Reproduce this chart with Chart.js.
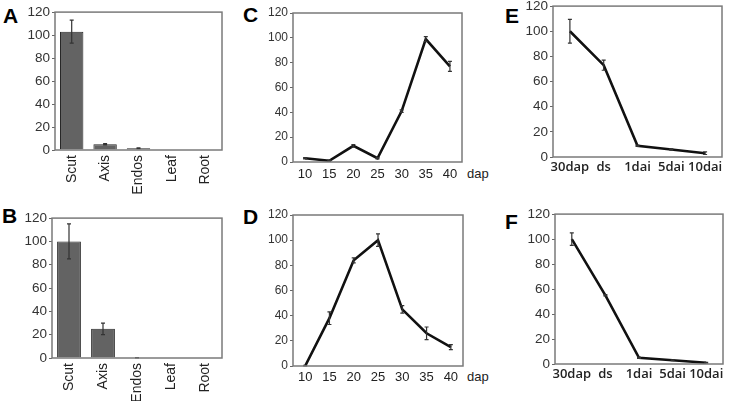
<!DOCTYPE html>
<html>
<head>
<meta charset="utf-8">
<script src="https://cdn.jsdelivr.net/npm/chart.js@4.4.0/dist/chart.umd.min.js"></script>
<style>
    body { margin: 0; background: #fff; }
    #page { position: relative; width: 740px; height: 401px; overflow: hidden; background: #fff; }
    .panel { position: absolute; }
    .letter { position: absolute; font: bold 21px "Liberation Sans", Arial, sans-serif; line-height: 21px; color: #000; }
    .unit { position: absolute; font: 13px "Liberation Sans", Arial, sans-serif; color: #222; }
</style>
</head>
<body>
<div id="page">
    <div class="letter" style="left:3px;top:5px">A</div>
    <div class="letter" style="left:2px;top:205px">B</div>
    <div class="letter" style="left:243px;top:4px">C</div>
    <div class="letter" style="left:243px;top:206px">D</div>
    <div class="letter" style="left:505px;top:5px">E</div>
    <div class="letter" style="left:505px;top:211px">F</div>
    <div class="unit" style="left:467px;top:166px">dap</div>
    <div class="unit" style="left:467px;top:369px">dap</div>
</div>
<script>
const tissue_labels = ['Scut', 'Axis', 'Endos', 'Leaf', 'Root'];
const dap_labels = ['10', '15', '20', '25', '30', '35', '40'];
const stage_labels = ['30dap', 'ds', '1dai', '5dai', '10dai'];

const a_values = [103, 5, 1.5, 0, 0];
const a_errors = [10, 0.6, 0.3, 0, 0];
const b_values = [100, 25, 0, 0, 0];
const b_errors = [15, 5, 0.3, 0, 0];
const c_values = [3, 1, 13, 3, 41, 99, 77];
const c_errors = [0.5, 0.5, 1, 0.5, 1, 2, 4];
const d_values = [0, 38, 84, 100, 45, 26, 15];
const d_errors = [0.5, 5, 2, 5, 3, 5, 2];
const e_values = [100, 73, 9, 6, 3];
const e_errors = [9.5, 4, 0.5, 0.5, 1];
const f_values = [100, 55, 5, 3, 1];
const f_errors = [5, 0.5, 0.5, 0.3, 0.3];

const y_min = 0;
const y_max = 120;
const y_step = 20;

const YW = 38;   // y axis width
const PAD = { top: 10, right: 12, left: 0, bottom: 0 };

// frame around the plot area
const framePlugin = {
    id: 'frame',
    afterDraw(chart) {
        const a = chart.chartArea;
        const ctx = chart.ctx;
        ctx.save();
        ctx.strokeStyle = '#7a7a7a';
        ctx.lineWidth = 1.5;
        ctx.strokeRect(a.left, a.top, a.right - a.left, a.bottom - a.top);
        ctx.restore();
    }
};

const errorBarPlugin = {
    id: 'errbars',
    afterDatasetsDraw(chart) {
        const ds = chart.data.datasets[0];
        const x = chart.scales.x, y = chart.scales.y;
        const ctx = chart.ctx;
        ctx.save();
        ctx.strokeStyle = '#333';
        ctx.lineWidth = 1.2;
        ds.data.forEach((v, i) => {
            const e = ds.errors[i];
            if (!e) return;
            const px = x.getPixelForValue(i);
            const top = y.getPixelForValue(v + e);
            const bot = y.getPixelForValue(Math.max(v - e, 0));
            ctx.beginPath();
            ctx.moveTo(px, top); ctx.lineTo(px, bot);
            ctx.moveTo(px - 2, top); ctx.lineTo(px + 2, top);
            ctx.moveTo(px - 2, bot); ctx.lineTo(px + 2, bot);
            ctx.stroke();
        });
        ctx.restore();
    }
};

function makePanel(box, type, labels, values, errors, xh, xFont, yFont, xPad, rotate) {
    const canvas = document.createElement('canvas');
    const w = box.r - box.l + YW + PAD.right;
    const h = box.b - box.t + PAD.top + xh;
    canvas.width = w;
    canvas.height = h;
    const wrap = document.createElement('div');
    wrap.className = 'panel';
    wrap.style.left = (box.l - YW) + 'px';
    wrap.style.top = (box.t - PAD.top) + 'px';
    wrap.style.width = w + 'px';
    wrap.style.height = h + 'px';
    wrap.appendChild(canvas);
    document.getElementById('page').appendChild(wrap);

    const dataset = type === 'bar' ? {
        data: values,
        errors: errors,
        backgroundColor: '#636363',
        borderColor: '#262626',
        borderWidth: 1,
        barPercentage: 0.7,
        categoryPercentage: 1
    } : {
        data: values,
        errors: errors,
        borderColor: '#111',
        borderWidth: 2.6,
        pointRadius: 0,
        tension: 0,
        fill: false
    };

    return new Chart(canvas, {
        type: type,
        data: { labels: labels, datasets: [dataset] },
        options: {
            responsive: false,
            animation: false,
            layout: { padding: PAD },
            plugins: { legend: { display: false }, tooltip: { enabled: false } },
            scales: {
                x: {
                    offset: true,
                    grid: { display: false, drawTicks: false },
                    border: { display: false },
                    ticks: {
                        color: '#222',
                        font: xFont,
                        padding: xPad,
                        maxRotation: rotate ? 90 : 0,
                        minRotation: rotate ? 90 : 0,
                        autoSkip: false
                    },
                    afterFit(s) { s.height = xh; }
                },
                y: {
                    min: y_min,
                    max: y_max,
                    grid: { drawOnChartArea: false, tickLength: 3, color: '#666' },
                    border: { display: false },
                    ticks: {
                        stepSize: y_step,
                        color: '#333',
                        padding: 2,
                        font: yFont
                    },
                    afterFit(s) { s.width = YW; }
                }
            }
        },
        plugins: [framePlugin, errorBarPlugin]
    });
}

const tissueFont = { family: '"Liberation Sans", Arial', size: 14 };
const dapFont = { family: '"Liberation Sans", Arial', size: 13 };
const stageFont = { family: '"Open Sans"', size: 13, weight: '600' };
const bigY = { family: '"Liberation Sans", Arial', size: 13.5 };
const smallY = { family: '"Liberation Sans", Arial', size: 12 };

makePanel({ l: 55, t: 12, r: 222, b: 150 }, 'bar', tissue_labels, a_values, a_errors, 50, tissueFont, bigY, 5, true);
makePanel({ l: 52, t: 218, r: 222, b: 358 }, 'bar', tissue_labels, b_values, b_errors, 43, tissueFont, bigY, 5, true);
makePanel({ l: 293, t: 13, r: 462, b: 162 }, 'line', dap_labels, c_values, c_errors, 25, dapFont, smallY, 5, false);
makePanel({ l: 293, t: 215, r: 463, b: 366 }, 'line', dap_labels, d_values, d_errors, 25, dapFont, smallY, 4, false);
makePanel({ l: 553, t: 6, r: 722, b: 157 }, 'line', stage_labels, e_values, e_errors, 25, stageFont, bigY, 2, false);
makePanel({ l: 555, t: 214, r: 723, b: 364 }, 'line', stage_labels, f_values, f_errors, 25, stageFont, bigY, 2, false);
</script>
</body>
</html>
